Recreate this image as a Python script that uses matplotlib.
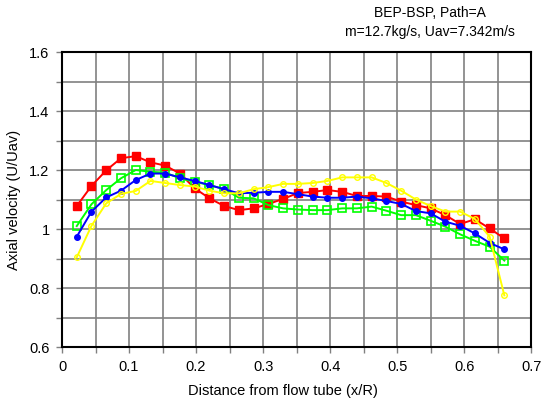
import numpy as np
from matplotlib import pyplot as plt
from matplotlib.ticker import MultipleLocator

plt.rcParams['font.family'] = ['Liberation Sans', 'DejaVu Sans']

# radial positions (x/R)
x = [0.022, 0.044, 0.066, 0.088, 0.110, 0.132, 0.154, 0.176, 0.198, 0.220,
     0.242, 0.264, 0.286, 0.308, 0.330, 0.352, 0.374, 0.396, 0.418, 0.440,
     0.462, 0.484, 0.506, 0.528, 0.550, 0.572, 0.594, 0.616, 0.638, 0.660]

red = [1.078, 1.146, 1.199, 1.240, 1.247, 1.226, 1.215, 1.188, 1.138, 1.104,
       1.078, 1.064, 1.070, 1.085, 1.102, 1.122, 1.126, 1.132, 1.126, 1.112,
       1.112, 1.110, 1.093, 1.081, 1.070, 1.047, 1.017, 1.033, 1.002, 0.968]
green = [1.010, 1.084, 1.132, 1.172, 1.200, 1.194, 1.191, 1.172, 1.160, 1.149,
         1.135, 1.106, 1.104, 1.081, 1.070, 1.066, 1.064, 1.064, 1.070, 1.070,
         1.076, 1.062, 1.047, 1.047, 1.028, 1.008, 0.982, 0.960, 0.940, 0.893]
blue = [0.974, 1.059, 1.107, 1.130, 1.166, 1.188, 1.188, 1.175, 1.163, 1.149,
        1.135, 1.121, 1.123, 1.126, 1.126, 1.118, 1.110, 1.106, 1.106, 1.110,
        1.104, 1.095, 1.085, 1.061, 1.053, 1.025, 1.011, 0.985, 0.953, 0.931]
yellow = [0.904, 1.011, 1.087, 1.119, 1.129, 1.163, 1.156, 1.149, 1.144, 1.130,
          1.121, 1.121, 1.135, 1.142, 1.153, 1.153, 1.156, 1.163, 1.175, 1.175,
          1.175, 1.156, 1.130, 1.100, 1.078, 1.059, 1.059, 1.034, 0.974, 0.775]

xticks = [0, 0.1, 0.2, 0.3, 0.4, 0.5, 0.6, 0.7]
xticklabels = ['0', '0.1', '0.2', '0.3', '0.4', '0.5', '0.6', '0.7']
yticks = [0.6, 0.8, 1.0, 1.2, 1.4, 1.6]
yticklabels = ['0.6', '0.8', '1', '1.2', '1.4', '1.6']

fig = plt.figure(figsize=(5.42, 4.08), dpi=100)
ax = fig.add_axes([0.1144, 0.1495, 0.8656, 0.723])

ax.plot(x, red, color='#ff0000', lw=1.4, marker='s', ms=6, mfc='#ff0000', mec='#ff0000')
ax.plot(x, green, color='#00ff00', lw=1.4, marker='s', ms=5.5, mfc='none', mec='#00ff00', mew=1.2)
ax.plot(x, blue, color='#0000ff', lw=1.4, marker='o', ms=4, mfc='#0000ff', mec='#0000ff')
ax.plot(x, yellow, color='#ffff00', lw=1.4, marker='o', ms=4, mfc='none', mec='#ffff00', mew=1.0)

ax.set_xlim(0, 0.7)
ax.set_ylim(0.6, 1.6)
ax.set_xticks(xticks)
ax.set_xticklabels(xticklabels)
ax.xaxis.set_minor_locator(MultipleLocator(0.05))
ax.set_yticks(yticks)
ax.set_yticklabels(yticklabels)
ax.yaxis.set_minor_locator(MultipleLocator(0.1))
ax.grid(which='both', color='#808080', lw=1.2)
ax.set_axisbelow(True)
ax.tick_params(which='both', direction='out', length=4, width=1, color='#808080',
               labelsize=10.5, pad=5)
for s in ax.spines.values():
    s.set_linewidth(1.5)
    s.set_color('black')

ax.set_xlabel('Distance from flow tube (x/R)', fontsize=10.5)
ax.xaxis.set_label_coords(0.47, -0.125)
ax.set_ylabel('Axial velocity (U/Uav)', fontsize=10.5, labelpad=6)
fig.text(0.793, 0.985, 'BEP-BSP, Path=A\nm=12.7kg/s, Uav=7.342m/s', ha='center', va='top',
         fontsize=10, linespacing=1.45)

fig.savefig('out.png', dpi=100)
